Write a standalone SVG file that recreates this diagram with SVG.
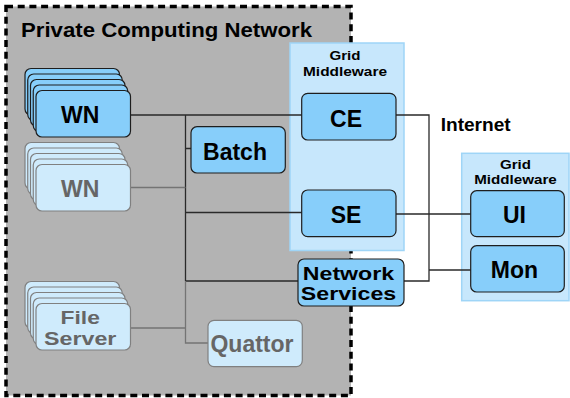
<svg xmlns="http://www.w3.org/2000/svg" width="570" height="398" viewBox="0 0 570 398">
<defs>
<style>
.bg{fill:#b3b3b3;stroke:#000;stroke-width:3.5;stroke-dasharray:7 4.7}
.panel{fill:#c7e7fc;stroke:#9fd5f7;stroke-width:1.5}
.dk{fill:#87cefa;stroke:#1e1e1e;stroke-width:1.2}
.lt{fill:#cfebfc;stroke:#808080;stroke-width:1.2}
.t{font-family:"Liberation Sans",Arial,sans-serif;font-weight:bold;text-anchor:middle}
.nt{font-size:23px;fill:#000}
.ntl{font-size:23px;fill:#666}
.n2{font-size:18.5px}
.pt{font-size:13px;fill:#000}
.ln{fill:none;stroke:#2a2a2a;stroke-width:1.3}
.lg{fill:none;stroke:#747474;stroke-width:1.3}
</style>
</defs>
<rect class="bg" x="6" y="6.5" width="345" height="389"/>
<text class="t" x="21" y="36.7" style="text-anchor:start;font-size:20px" textLength="291" lengthAdjust="spacingAndGlyphs">Private Computing Network</text>
<g id="gm-left">
<rect class="panel" x="290" y="43" width="114" height="207.5"/>
<text class="t pt" x="345" y="59.5" textLength="31" lengthAdjust="spacingAndGlyphs">Grid</text>
<text class="t pt" x="345" y="76" textLength="84" lengthAdjust="spacingAndGlyphs">Middleware</text>
</g>
<g id="gm-right">
<rect class="panel" x="461.7" y="153.3" width="107.3" height="147.4"/>
<text class="t pt" x="515.5" y="169.3" textLength="31" lengthAdjust="spacingAndGlyphs">Grid</text>
<text class="t pt" x="515.5" y="183.8" textLength="82.5" lengthAdjust="spacingAndGlyphs">Middleware</text>
</g>
<g id="connectors">
<path class="ln" d="M130 115H302M185.5 115V281M185.5 148.5H191M185.5 212.5H302M185.5 281H298"/>
<path class="lg" d="M130 187.5H185.5M185.5 281V343H208M130 328H185.5"/>
<path class="ln" d="M396 115H429V281H404M429 270H471M396 214H471"/>
</g>
<g id="wn1">
<rect class="dk" x="25" y="68.5" width="94.5" height="46.5" rx="6"/>
<rect class="dk" x="27.75" y="74" width="94.5" height="46.5" rx="6"/>
<rect class="dk" x="30.5" y="79.5" width="94.5" height="46.5" rx="6"/>
<rect class="dk" x="33.25" y="85" width="94.5" height="46.5" rx="6"/>
<rect class="dk" x="36" y="90.5" width="94.5" height="46.5" rx="6"/>
<text class="t nt" x="80.2" y="123.3">WN</text>
</g>
<g id="wn2">
<rect class="lt" x="25" y="142.5" width="94.5" height="46.5" rx="6"/>
<rect class="lt" x="27.75" y="148" width="94.5" height="46.5" rx="6"/>
<rect class="lt" x="30.5" y="153.5" width="94.5" height="46.5" rx="6"/>
<rect class="lt" x="33.25" y="159" width="94.5" height="46.5" rx="6"/>
<rect class="lt" x="36" y="164.5" width="94.5" height="46.5" rx="6"/>
<text class="t ntl" x="80.2" y="197.3">WN</text>
</g>
<g id="fileserver">
<rect class="lt" x="25" y="281.5" width="94.5" height="46.5" rx="6"/>
<rect class="lt" x="27.75" y="287" width="94.5" height="46.5" rx="6"/>
<rect class="lt" x="30.5" y="292.5" width="94.5" height="46.5" rx="6"/>
<rect class="lt" x="33.25" y="298" width="94.5" height="46.5" rx="6"/>
<rect class="lt" x="36" y="303.5" width="94.5" height="46.5" rx="6"/>
<text class="t ntl n2" x="80.2" y="324.3" textLength="39.3" lengthAdjust="spacingAndGlyphs">File</text>
<text class="t ntl n2" x="80.2" y="344.5" textLength="72.3" lengthAdjust="spacingAndGlyphs">Server</text>
</g>
<g id="batch">
<rect class="dk" x="191" y="126.7" width="94.3" height="46.3" rx="6"/>
<text class="t nt" x="235" y="159.8">Batch</text>
</g>
<g id="quattor">
<rect class="lt" x="208" y="320.3" width="94.3" height="46.3" rx="6"/>
<text class="t ntl" x="252" y="351.7">Quattor</text>
</g>
<g id="ce">
<rect class="dk" x="301.7" y="93.3" width="94.3" height="46.7" rx="6"/>
<text class="t nt" x="346" y="126.7">CE</text>
</g>
<g id="se">
<rect class="dk" x="301.7" y="190" width="94.3" height="46.7" rx="6"/>
<text class="t nt" x="346" y="223">SE</text>
</g>
<g id="netserv">
<rect class="dk" x="298" y="259" width="106" height="47" rx="6"/>
<text class="t nt n2" x="348.5" y="280" textLength="91.3" lengthAdjust="spacingAndGlyphs">Network</text>
<text class="t nt n2" x="348.5" y="300.3" textLength="95.3" lengthAdjust="spacingAndGlyphs">Services</text>
</g>
<g id="internet">
<text class="t" x="440.7" y="130.7" style="text-anchor:start;font-size:17.5px" textLength="70" lengthAdjust="spacingAndGlyphs">Internet</text>
</g>
<g id="ui">
<rect class="dk" x="470.7" y="190.7" width="93.6" height="46" rx="6"/>
<text class="t nt" x="514.5" y="223.3">UI</text>
</g>
<g id="mon">
<rect class="dk" x="470.7" y="245.7" width="93.6" height="46.3" rx="6"/>
<text class="t nt" x="514.5" y="278.3">Mon</text>
</g>
</svg>
